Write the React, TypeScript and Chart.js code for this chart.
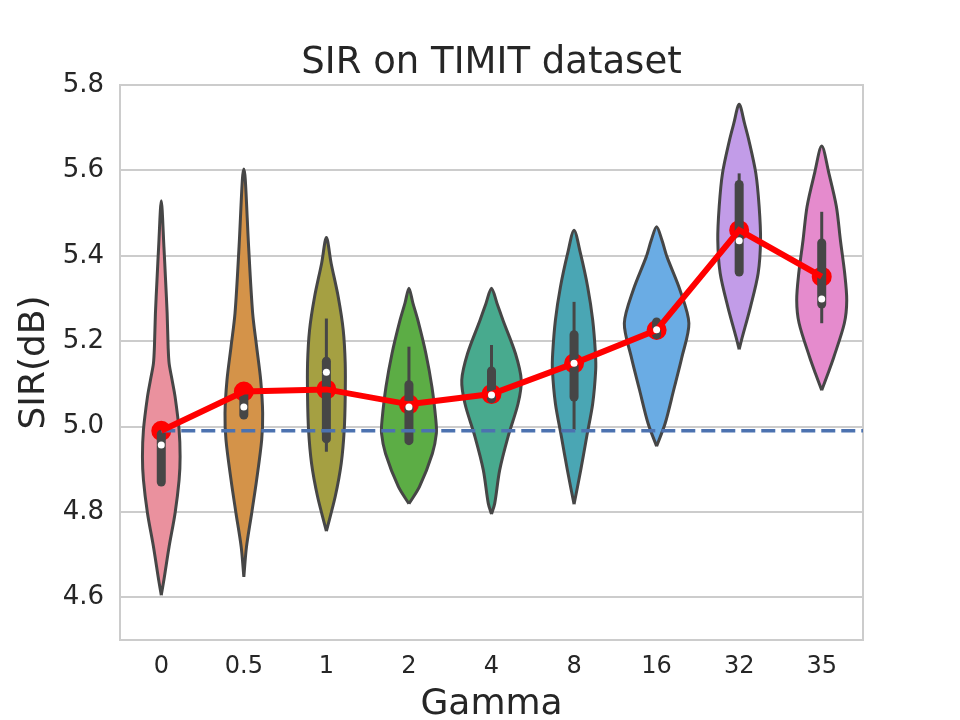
import React, { useEffect, useRef } from 'react';
import { Chart, registerables } from 'chart.js';

Chart.register(...registerables);

const categories = ['0', '0.5', '1', '2', '4', '8', '16', '32', '35'];
const yTicks = [4.6, 4.8, 5.0, 5.2, 5.4, 5.6, 5.8];
const fillColors = ['#ea919e', '#d49349', '#a5a042', '#5cad45', '#48aa8e', '#4aa6b4', '#6aace4', '#c29ce8', '#e58bcd'];

// violin outlines: SIR values (top to bottom) and half widths (category units)
const violin0Y = [5.529, 5.421, 5.343, 5.265, 5.187, 5.148, 5.109, 5.070, 4.992, 4.929, 4.875, 4.797, 4.719, 4.641, 4.605];
const violin0W = [0, 0.032, 0.052, 0.071, 0.083, 0.095, 0.131, 0.167, 0.216, 0.228, 0.216, 0.167, 0.095, 0.032, 0];
const violin1Y = [5.603, 5.577, 5.421, 5.265, 5.187, 5.109, 5.031, 4.968, 4.875, 4.797, 4.718, 4.648];
const violin1W = [0, 0.018, 0.058, 0.107, 0.155, 0.204, 0.228, 0.216, 0.155, 0.095, 0.032, 0];
const violin2Y = [5.443, 5.382, 5.304, 5.226, 5.148, 5.070, 4.992, 4.914, 4.836, 4.755];
const violin2W = [0, 0.058, 0.143, 0.204, 0.228, 0.228, 0.216, 0.180, 0.107, 0];
const violin3Y = [5.324, 5.289, 5.249, 5.171, 5.093, 5.015, 4.984, 4.937, 4.859, 4.819];
const violin3W = [0, 0.048, 0.108, 0.205, 0.278, 0.326, 0.332, 0.284, 0.128, 0];
const violin4Y = [5.324, 5.289, 5.249, 5.171, 5.109, 5.054, 4.976, 4.898, 4.820, 4.795];
const violin4W = [0, 0.066, 0.139, 0.290, 0.360, 0.322, 0.200, 0.099, 0.039, 0];
const violin5Y = [5.460, 5.406, 5.327, 5.249, 5.171, 5.132, 5.054, 4.976, 4.898, 4.818];
const violin5W = [0, 0.077, 0.165, 0.226, 0.259, 0.262, 0.226, 0.153, 0.081, 0];
const violin6Y = [5.468, 5.437, 5.398, 5.320, 5.242, 5.163, 5.085, 5.007, 4.954];
const violin6W = [0, 0.064, 0.125, 0.283, 0.391, 0.307, 0.206, 0.103, 0];
const violin7Y = [5.755, 5.710, 5.671, 5.593, 5.515, 5.437, 5.359, 5.281, 5.203, 5.181];
const violin7W = [0, 0.065, 0.117, 0.202, 0.242, 0.259, 0.230, 0.138, 0.029, 0];
const violin8Y = [5.657, 5.593, 5.515, 5.437, 5.359, 5.296, 5.242, 5.163, 5.125, 5.085];
const violin8W = [0, 0.087, 0.178, 0.226, 0.278, 0.303, 0.274, 0.147, 0.077, 0];

const iqrLow = [4.870, 5.027, 4.971, 4.967, 5.065, 5.069, 5.215, 5.362, 5.287];
const iqrHigh = [4.982, 5.076, 5.153, 5.098, 5.130, 5.215, 5.245, 5.567, 5.430];
const whiskerLow = [4.870, 5.027, 4.941, 4.967, 5.065, 4.992, 5.210, 5.362, 5.242];
const whiskerHigh = [4.982, 5.076, 5.253, 5.187, 5.191, 5.292, 5.250, 5.593, 5.503];
const medians = [4.957, 5.046, 5.127, 5.046, 5.074, 5.148, 5.227, 5.435, 5.299];
const means = [4.990, 5.082, 5.087, 5.052, 5.076, 5.148, 5.226, 5.460, 5.351];
const baselineValue = 4.99;

const violinYs = [violin0Y, violin1Y, violin2Y, violin3Y, violin4Y, violin5Y, violin6Y, violin7Y, violin8Y];
const violinWs = [violin0W, violin1W, violin2W, violin3W, violin4W, violin5W, violin6W, violin7W, violin8W];

const TEXT = '#262626';
const GRAY = '#464646';
const GRID = '#cccccc';
const FONT = "'DejaVu Sans', sans-serif";

function violinPoints(i: number, ys: number[], ws: number[]) {
  const left = ys.map((y, k) => ({ x: i - ws[k], y })).reverse();
  const right = ys.map((y, k) => ({ x: i + ws[k], y }));
  return [...left, ...right.slice(1)];
}

const framePlugin = {
  id: 'frame',
  beforeDatasetsDraw(chart: any) {
    const { ctx, chartArea } = chart;
    ctx.save();
    ctx.strokeStyle = GRID;
    ctx.lineWidth = 2;
    ctx.strokeRect(chartArea.left, chartArea.top, chartArea.right - chartArea.left, chartArea.bottom - chartArea.top);
    ctx.restore();
  },
};

export default function App() {
  const ref = useRef<HTMLCanvasElement>(null);
  useEffect(() => {
    document.body.style.margin = '0';
    const datasets: any[] = [];
    categories.forEach((_, i) => {
      datasets.push({
        data: violinPoints(i, violinYs[i], violinWs[i]),
        backgroundColor: fillColors[i],
        borderColor: GRAY,
        borderWidth: 3,
        fill: 'shape',
        tension: 0.3,
        pointRadius: 0,
        borderJoinStyle: 'round',
        order: 10,
      });
    });
    datasets.push({
      data: means.map((y, i) => ({ x: i, y })),
      showLine: false,
      pointRadius: 9,
      pointBackgroundColor: '#ff0000',
      pointBorderColor: '#ff0000',
      pointBorderWidth: 2,
      order: 8,
    });
    categories.forEach((_, i) => {
      datasets.push({
        data: [{ x: i, y: whiskerLow[i] }, { x: i, y: whiskerHigh[i] }],
        borderColor: GRAY,
        borderWidth: 3,
        pointRadius: 0,
        fill: false,
        order: 6,
      });
      datasets.push({
        data: [{ x: i, y: iqrLow[i] }, { x: i, y: iqrHigh[i] }],
        borderColor: GRAY,
        borderWidth: 9,
        borderCapStyle: 'round',
        pointRadius: 0,
        fill: false,
        order: 5,
      });
    });
    datasets.push({
      data: [{ x: 0, y: baselineValue }, { x: 8.5, y: baselineValue }],
      borderColor: '#4c72b0',
      borderWidth: 3.5,
      borderDash: [14, 6],
      pointRadius: 0,
      fill: false,
      order: 3,
    });
    datasets.push({
      data: means.map((y, i) => ({ x: i, y })),
      borderColor: '#ff0000',
      borderWidth: 6,
      pointRadius: 0,
      tension: 0,
      fill: false,
      order: 2,
    });
    datasets.push({
      data: medians.map((y, i) => ({ x: i, y })),
      showLine: false,
      pointRadius: 3.5,
      pointBackgroundColor: '#ffffff',
      pointBorderWidth: 0,
      order: 1,
    });

    const chart = new Chart(ref.current!, {
      type: 'line',
      data: { datasets },
      plugins: [framePlugin],
      options: {
        animation: false,
        responsive: false,
        devicePixelRatio: 1,
        layout: { padding: { left: 0, right: 97, top: 0, bottom: 0 } },
        plugins: {
          legend: { display: false },
          tooltip: { enabled: false },
          title: {
            display: true,
            text: 'SIR on TIMIT dataset',
            fullSize: false,
            color: TEXT,
            font: { family: FONT, size: 37, weight: 'normal', lineHeight: 1 },
            padding: { top: 45, bottom: 3 },
          },
        },
        scales: {
          x: {
            type: 'linear',
            min: -0.5,
            max: 8.5,
            afterFit: (s: any) => { s.height = 80; },
            afterBuildTicks: (s: any) => { s.ticks = categories.map((_, i) => ({ value: i })); },
            grid: { display: false, drawTicks: false },
            border: { display: false },
            ticks: {
              autoSkip: false,
              maxRotation: 0,
              padding: 15,
              color: TEXT,
              font: { family: FONT, size: 24, lineHeight: 1 },
              callback: (v: any) => categories[Math.round(Number(v))],
            },
            title: {
              display: true,
              text: 'Gamma',
              color: TEXT,
              font: { family: FONT, size: 36, lineHeight: 0.85 },
              padding: { top: 0, bottom: 0 },
            },
          },
          y: {
            type: 'linear',
            min: 4.5,
            max: 5.8,
            afterFit: (s: any) => { s.width = 120; },
            afterBuildTicks: (s: any) => { s.ticks = yTicks.map((v) => ({ value: v })); },
            grid: { color: GRID, lineWidth: 2, drawTicks: false },
            border: { display: false },
            ticks: {
              padding: 16,
              color: TEXT,
              font: { family: FONT, size: 26, lineHeight: 1 },
              callback: (v: any) => Number(v).toFixed(1),
            },
            title: {
              display: true,
              text: 'SIR(dB)',
              color: TEXT,
              font: { family: FONT, size: 36, lineHeight: 1 },
              padding: { top: 17, bottom: 0 },
            },
          },
        },
      },
    } as any);
    return () => chart.destroy();
  }, []);
  return <canvas ref={ref} width={960} height={720} style={{ display: 'block' }} />;
}
